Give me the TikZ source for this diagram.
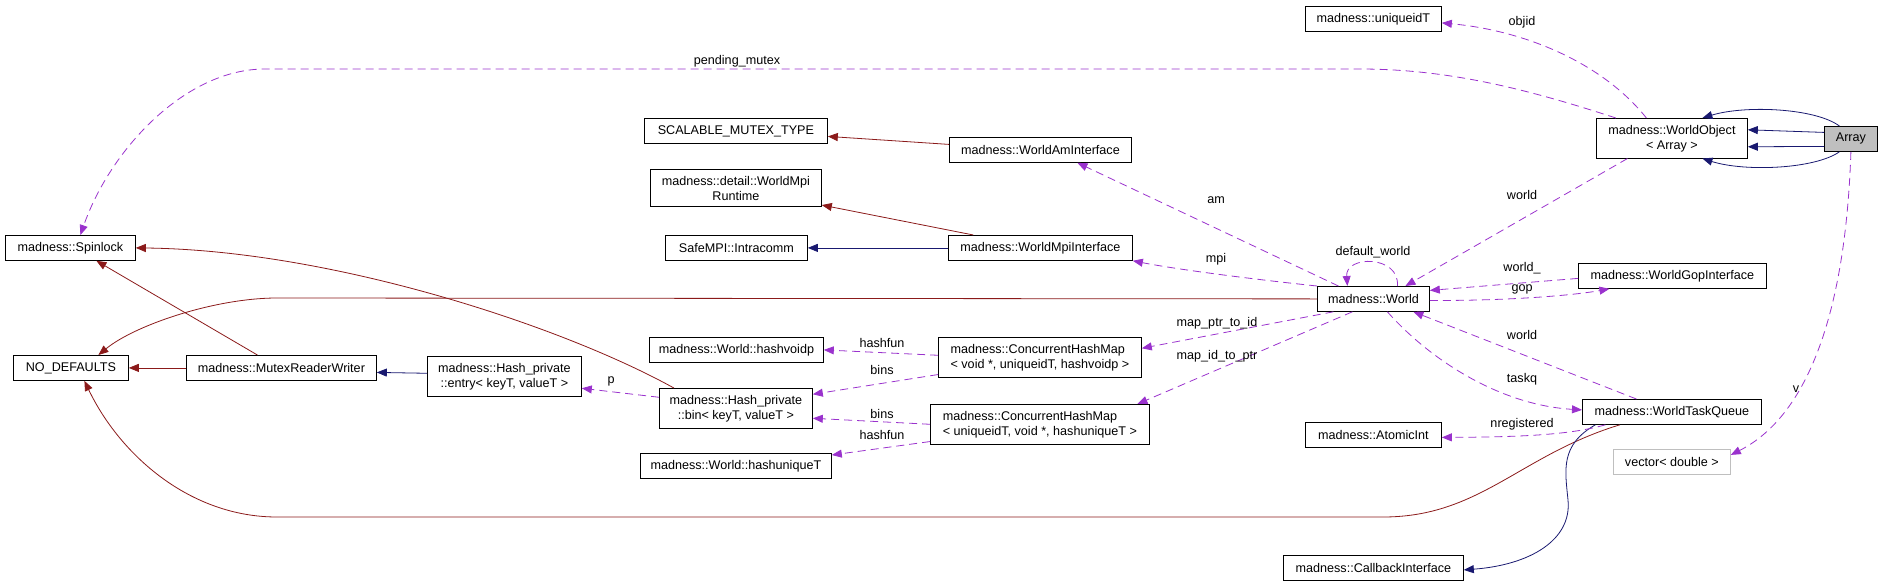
\documentclass[tikz,border=0pt]{standalone}
\usepackage{fontspec}
\setmainfont{Liberation Sans}
\usepackage{tikz}
\usetikzlibrary{arrows.meta}
\definecolor{inhred}{HTML}{8B1A1A}
\definecolor{inhblue}{HTML}{191970}
\definecolor{usepurple}{HTML}{9A32CD}
\definecolor{extgray}{HTML}{BFBFBF}

\begin{document}
\begin{tikzpicture}[x=1pt,y=-1pt,line width=0.8pt]
                \tikzstyle{cls}=[draw=black,fill=white,anchor=north west,inner xsep=4pt,inner ysep=6.5pt,minimum height=25pt,align=center,font=\fontsize{12.6pt}{15pt}\selectfont]
                \tikzstyle{lbl}=[inner sep=1pt,font=\fontsize{12.6pt}{15pt}\selectfont]
                \tikzstyle{inhedge}=[draw=inhred,-{Triangle[length=10pt,width=8pt]}]
                \tikzstyle{pubedge}=[draw=inhblue,-{Triangle[length=10pt,width=8pt]}]
                \tikzstyle{usedge}=[draw=usepurple,dash pattern=on 8pt off 5pt,-{Triangle[length=10pt,width=8pt]}]
                \useasboundingbox (0,0) rectangle (1883,587);

                \node[cls,minimum width=130pt] (spin) at (5,235) {madness::Spinlock};
                \node[cls,minimum width=115pt] (nodef) at (13,355) {NO\_DEFAULTS};
                \node[cls,minimum width=190pt] (mrw) at (186,355) {madness::MutexReaderWriter};
                \node[cls,minimum width=154pt] (entry) at (427,356) {madness::Hash\_private\\::entry< keyT, valueT >};
                \node[cls,minimum width=183pt] (scal) at (644,118) {SCALABLE\_MUTEX\_TYPE};
                \node[cls,minimum width=171pt] (mpirt) at (650,169) {madness::detail::WorldMpi\\Runtime};
                \node[cls,minimum width=142pt] (intra) at (665,235) {SafeMPI::Intracomm};
                \node[cls,minimum width=182pt] (amif) at (949,137) {madness::WorldAmInterface};
                \node[cls,minimum width=184pt] (mpiif) at (948,235) {madness::WorldMpiInterface};
                \node[cls,minimum width=174pt] (hvoid) at (649,337) {madness::World::hashvoidp};
                \node[cls,minimum width=153pt] (bin) at (659,388) {madness::Hash\_private\\::bin< keyT, valueT >};
                \node[cls,minimum width=191pt] (huniq) at (640,453) {madness::World::hashuniqueT};
                \node[cls,minimum width=203pt,align=left] (chmv) at (938,337) {madness::ConcurrentHashMap\\< void *, uniqueidT, hashvoidp >};
                \node[cls,minimum width=219pt,align=left] (chmu) at (930,404) {madness::ConcurrentHashMap\\< uniqueidT, void *, hashuniqueT >};
                \node[cls,minimum width=136pt] (uid) at (1305,6) {madness::uniqueidT};
                \node[cls,minimum width=151pt] (wobj) at (1596,118) {madness::WorldObject\\< Array >};
                \node[cls,minimum width=53pt,fill=extgray] (arr) at (1824,126) {Array};
                \node[cls,minimum width=112pt] (world) at (1317,286) {madness::World};
                \node[cls,minimum width=188pt] (gop) at (1578,263) {madness::WorldGopInterface};
                \node[cls,minimum width=179pt] (tq) at (1582,399) {madness::WorldTaskQueue};
                \node[cls,minimum width=136pt] (aint) at (1305,422) {madness::AtomicInt};
                \node[cls,minimum width=117pt,draw=extgray] (vec) at (1613,449) {vector< double >};
                \node[cls,minimum width=180pt] (cb) at (1283,555) {madness::CallbackInterface};

                % base classes
                \draw[inhedge] ([xshift=-24pt]mrw.north) -- ([xshift=26pt]spin.south);
                \draw[inhedge] (mrw.west) -- (nodef.east);
                \draw[inhedge] ([xshift=-62pt]bin.north) .. controls (560,325) and (330,250) .. (spin.east);
                \draw[inhedge] ([yshift=5.5pt]amif.west) -- ([yshift=-5.5pt]scal.east);
                \draw[inhedge] ([xshift=-67pt]mpiif.north) -- ([yshift=2pt]mpirt.south east);
                \draw[inhedge] (world.west) -- (277,298) .. controls (215,298) and (135,325) .. ([xshift=27.5pt]nodef.north);
                \draw[inhedge] ([xshift=-52pt]tq.south) .. controls (1520,455) and (1480,517) .. (1383,517) -- (277,517) .. controls (190,517) and (120,455) .. ([xshift=13.5pt]nodef.south);

                \draw[pubedge] ([yshift=3pt]entry.west) -- ([yshift=-4.5pt]mrw.east);
                \draw[pubedge] (mpiif.west) -- (intra.east);
                \draw[pubedge] ([xshift=-11.5pt]arr.north) .. controls (1815,108) and (1745,105) .. ([xshift=30.5pt]wobj.north);
                \draw[pubedge] ([yshift=6.5pt]arr.west) -- ([yshift=8.5pt]wobj.east);
                \draw[pubedge] ([yshift=-7.5pt]arr.west) -- ([yshift=-8.5pt]wobj.east);
                \draw[pubedge] ([xshift=-11.5pt]arr.south) .. controls (1815,169) and (1745,172) .. ([xshift=30.5pt]wobj.south);
                \draw[pubedge] ([xshift=-76.5pt]tq.south) .. controls (1560,445) and (1565,470) .. (1568,500) .. controls (1572,540) and (1530,565) .. ([yshift=-2pt]cb.east);

                % members
                \draw[usedge] ([xshift=-56pt]wobj.north) .. controls (1530,90) and (1450,69) .. (1360,69) -- (265,69) .. controls (185,69) and (110,150) .. ([xshift=10pt]spin.north) node[lbl] at (737,61) {pending\_mutex};
                \draw[usedge] ([xshift=-25.5pt]wobj.north) .. controls (1600,60) and (1520,30) .. ([yshift=-4pt]uid.east) node[lbl] at (1522,22) {objid};
                \draw[usedge] ([xshift=-44.5pt]wobj.south) -- ([xshift=32pt]world.north) node[lbl] at (1522,195) {world};
                \draw[usedge] ([xshift=24pt]world.north) .. controls (1400,255) and (1345,255) .. ([xshift=-26pt]world.north) node[lbl] at (1373,252) {default\_world};
                \draw[usedge] ([yshift=-2.5pt]gop.west) -- ([yshift=8.5pt]world.east) node[lbl] at (1522,268) {world\_};
                \draw[usedge] ([yshift=-1.5pt]world.east) .. controls (1500,301) and (1570,296) .. ([xshift=-63pt]gop.south) node[lbl] at (1522,289) {gop};
                \draw[usedge] ([xshift=-35pt]world.north) -- ([xshift=37pt]amif.south) node[lbl] at (1216,200) {am};
                \draw[usedge] (world.north west) .. controls (1260,280) and (1180,270) .. (mpiif.south east) node[lbl] at (1216,259) {mpi};
                \draw[usedge] ([xshift=-40pt]world.south) -- ([yshift=9pt]chmv.east) node[lbl] at (1217,323) {map\_ptr\_to\_id};
                \draw[usedge] ([xshift=-21pt]world.south) -- ([xshift=97.5pt]chmu.north) node[lbl] at (1217,356) {map\_id\_to\_ptr};
                \draw[usedge] ([xshift=-35.5pt]tq.north) -- ([xshift=40pt]world.south) node[lbl] at (1522,335) {world};
                \draw[usedge] ([xshift=14pt]world.south) .. controls (1430,360) and (1500,405) .. ([yshift=2pt]tq.west) node[lbl] at (1522,379) {taskq};
                \draw[usedge] ([xshift=-66.5pt]tq.south) .. controls (1570,435) and (1520,437) .. ([yshift=-2.5pt]aint.east) node[lbl] at (1522,424) {nregistered};
                \draw[usedge] (arr.south) .. controls (1845,330) and (1800,420) .. ([yshift=7pt]vec.east) node[lbl] at (1796,389) {v};
                \draw[usedge] ([yshift=2pt]chmv.west) -- (hvoid.east) node[lbl] at (882,343) {hashfun};
                \draw[usedge] ([yshift=3pt]chmv.south west) -- ([yshift=14pt]bin.east) node[lbl] at (882,370) {bins};
                \draw[usedge] (chmu.west) -- ([yshift=-10pt]bin.east) node[lbl] at (882,414) {bins};
                \draw[usedge] ([yshift=3pt]chmu.south west) -- ([yshift=-2pt]huniq.north east) node[lbl] at (882,435) {hashfun};
                \draw[usedge] ([yshift=11pt]bin.west) -- ([yshift=-12pt]entry.east) node[lbl] at (611,381) {p};
\end{tikzpicture}
\end{document}
